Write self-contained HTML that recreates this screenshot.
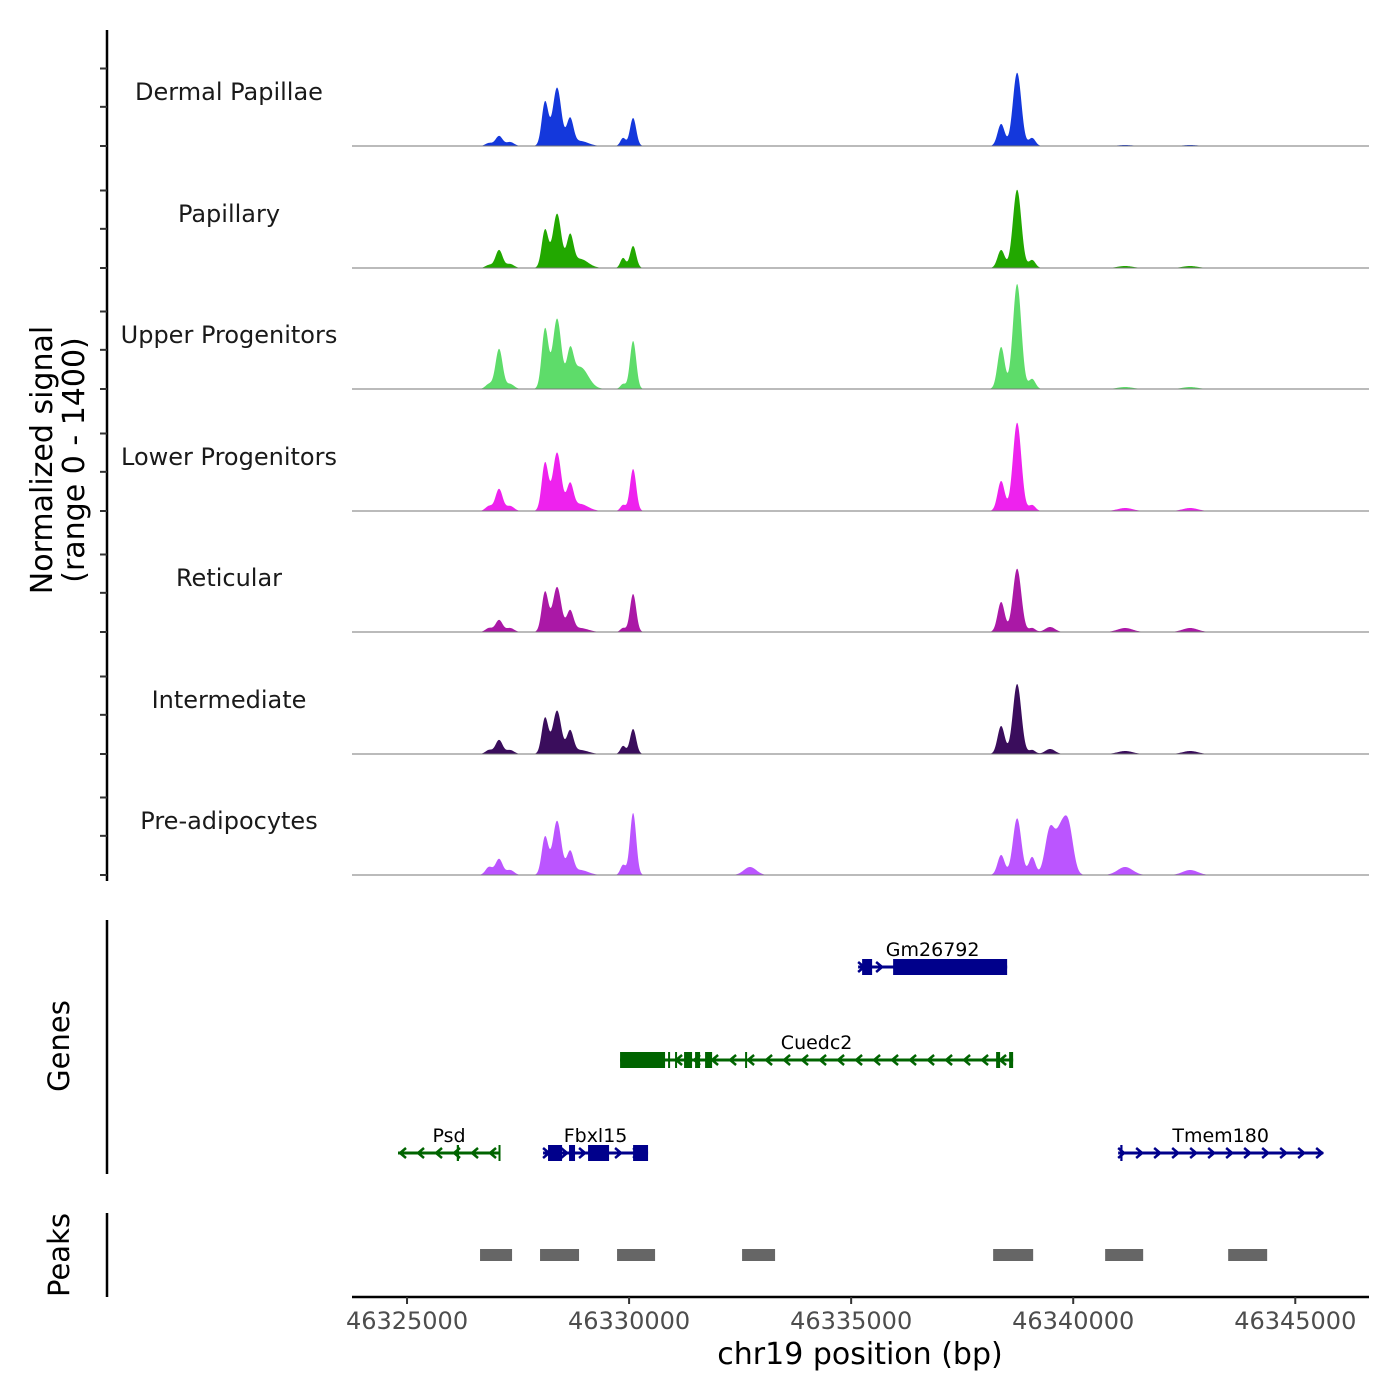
<!DOCTYPE html>
<html><head><meta charset="utf-8"><style>
html,body{margin:0;padding:0;background:#fff;}
svg{display:block;font-family:"DejaVu Sans","Liberation Sans",sans-serif;}
</style></head><body>
<svg id="chart" width="1400" height="1400" viewBox="0 0 1400 1400" xmlns="http://www.w3.org/2000/svg">
<g id="tracks"></g>
<g id="yaxes">
<line x1="107" y1="30" x2="107" y2="881" stroke="#000" stroke-width="2.5"/>
<line x1="107" y1="920" x2="107" y2="1174" stroke="#000" stroke-width="2.5"/>
<line x1="107" y1="1213" x2="107" y2="1297" stroke="#000" stroke-width="2.5"/>
<text transform="translate(52,460) rotate(-90)" text-anchor="middle" font-size="30" fill="#000">Normalized signal</text>
<text transform="translate(84,460) rotate(-90)" text-anchor="middle" font-size="30" fill="#000">(range 0 - 1400)</text>
<text transform="translate(69,1046) rotate(-90)" text-anchor="middle" font-size="29" fill="#000">Genes</text>
<text transform="translate(69,1255) rotate(-90)" text-anchor="middle" font-size="29" fill="#000">Peaks</text>
</g>
<g id="genes"></g>
<g id="peaks"></g>
<g id="xaxis">
<line x1="352" y1="1297" x2="1369" y2="1297" stroke="#000" stroke-width="2.5"/>
<text x="860" y="1364" text-anchor="middle" font-size="30" fill="#000">chr19 position (bp)</text>
</g>
</svg>
<script>
// ---- data ----
const trackNames = ["Dermal Papillae","Papillary","Upper Progenitors","Lower Progenitors","Reticular","Intermediate","Pre-adipocytes"];
const trackColors = ["#1438dc","#22a800","#5edc6a","#ee22ee","#aa18a6","#3a0d5c","#bb55ff"];
// peak centers (bp)
const peakCenters = [46326847,46327072,46327320,46328108,46328378,46328671,46328896,46329864,46330090,46332724,46338377,46338737,46339075,46339480,46339706,46339886,46341169,46342633];
const peakWidths  = [80,80,90,75,95,75,180,60,70,140,80,95,75,110,100,110,170,170];
// heights in signal units (0-1400), one array per track
const heightsDP   = [36,120,48,528,700,312,60,96,336,0,264,880,96,0,0,0,12,12];
const heightsPap  = [36,216,48,456,650,360,108,120,264,0,216,940,96,0,0,0,24,24];
const heightsUp   = [60,480,60,720,840,384,264,60,576,0,504,1260,120,0,0,0,24,24];
const heightsLow  = [60,264,60,576,700,300,84,72,504,0,360,1060,72,0,0,0,36,36];
const heightsRet  = [48,144,48,480,540,240,48,48,456,0,360,760,48,60,0,0,48,48];
const heightsInt  = [48,168,48,432,520,264,48,96,300,0,336,840,48,60,0,0,36,36];
const heightsPre  = [96,192,60,456,650,264,60,120,744,96,240,680,216,560,400,600,96,60];
const trackHeights = [heightsDP,heightsPap,heightsUp,heightsLow,heightsRet,heightsInt,heightsPre];
const xTicks = [46325000,46330000,46335000,46340000,46345000];
const yTickVals = [0,470,930];
const geneNames = ["Gm26792","Cuedc2","Psd","Fbxl15","Tmem180"];
const geneStrands = ["+","-","-","+","+"];
const geneStarts = [46335157,46329797,46324797,46328063,46341012];
const geneEnds   = [46338512,46338647,46327094,46330427,46345628];
const geneRows   = [0,1,2,2,2];
const geneColors = ["#00008b","#006400","#006400","#00008b","#00008b"];
const geneExons = [
 [[46335247,46335472],[46335945,46338512]],
 [[46329797,46330810],[46330878,46330923],[46331035,46331080],[46331238,46331418],[46331486,46331598],[46331711,46331869],[46332612,46332657],[46338264,46338354],[46338557,46338647]],
 [[46326120,46326170],[46327060,46327094]],
 [[46328175,46328491],[46328648,46328783],[46329076,46329549],[46330090,46330427]],
 [[46341060,46341110]]
];
const peakStarts = [46326644,46327995,46329729,46332544,46338197,46340719,46343489];
const peakEnds   = [46327365,46328873,46330585,46333287,46339098,46341575,46344367];

// ---- scales ----
const X0=352, X1=1369, D0=46323761, D1=46346660;
const xs = bp => X0 + (bp-D0)/(D1-D0)*(X1-X0);
const baselines = [146,268,389,511,632,754,875];
const trackH = 1400/12;
const ys = (v,i) => baselines[i] - v/1400*trackH;
const NS="http://www.w3.org/2000/svg";
function mk(tag, attrs, parent){const e=document.createElementNS(NS,tag);for(const k in attrs)e.setAttribute(k,attrs[k]);parent.appendChild(e);return e;}

const tracksG=document.getElementById('tracks');
const yaxesG=document.getElementById('yaxes');
trackNames.forEach((name,i)=>{
  const hs=trackHeights[i];
  let d=`M${X0},${baselines[i]}`;
  for(let px=X0;px<=X1;px+=0.5){
    const bp=D0+(px-X0)/(X1-X0)*(D1-D0);
    let v=0;
    for(let k=0;k<peakCenters.length;k++){const z=(bp-peakCenters[k])/peakWidths[k];v+=hs[k]*Math.exp(-0.5*z*z);}
    if(v>1400)v=1400;
    d+=`L${px},${ys(v,i).toFixed(2)}`;
  }
  d+=`L${X1},${baselines[i]}Z`;
  const p=mk('path',{d:d,fill:trackColors[i]},tracksG);
  
  
  const bl=mk('line',{x1:X0,x2:X1,y1:baselines[i],y2:baselines[i],stroke:'#777','stroke-width':1},tracksG);
  
  
  const t=mk('text',{x:229,y:baselines[i]-46,'text-anchor':'middle','font-size':'24',fill:'#1a1a1a'},tracksG);
  t.textContent=name;
  
  
  yTickVals.forEach(v=>{
    const tk=mk('line',{x1:100,x2:107,y1:ys(v,i),y2:ys(v,i),stroke:'#333','stroke-width':2},yaxesG);
    
    
  });
});

// genes
const genesG=document.getElementById('genes');
const rowY=[967,1060,1153];
geneNames.forEach((name,g)=>{
  const y=rowY[geneRows[g]], c=geneColors[g];
  const x1=xs(geneStarts[g]), x2=xs(geneEnds[g]);
  const ln=mk('line',{x1:x1,x2:x2,y1:y,y2:y,stroke:c,'stroke-width':3},genesG);
  
  
  const step=18;
  for(let ax=x1+4;ax<x2-2;ax+=step){
    const dir=geneStrands[g]==='+'?1:-1;
    const a=mk('polyline',{points:`${ax-4*dir},${y-5} ${ax+2*dir},${y} ${ax-4*dir},${y+5}`,fill:'none',stroke:c,'stroke-width':2.5},genesG);
    
    
  }
  geneExons[g].forEach(ex=>{
    const ea=xs(ex[0]), eb=xs(ex[1]);
    const r=mk('rect',{x:ea,y:y-8,width:Math.max(2,eb-ea),height:16,fill:c},genesG);
    
    
  });
  const t=mk('text',{x:(x1+x2)/2,y:y-11,'text-anchor':'middle','font-size':'19',fill:'#000'},genesG);
  t.textContent=name;
  
  
});

// peaks
const peaksG=document.getElementById('peaks');
peakStarts.forEach((s,i)=>{
  const r=mk('rect',{x:xs(s),y:1249,width:xs(peakEnds[i])-xs(s),height:12,fill:'#666'},peaksG);
  
  
});

// x ticks
const xaxisG=document.getElementById('xaxis');
xTicks.forEach(v=>{
  const x=xs(v);
  const l=mk('line',{x1:x,x2:x,y1:1297,y2:1304,stroke:'#333','stroke-width':2},xaxisG);
  
  
  const t=mk('text',{x:x,y:1329,'text-anchor':'middle','font-size':'24',fill:'#4d4d4d'},xaxisG);
  t.textContent=String(v);
  
  
});
</script>
</body></html>
